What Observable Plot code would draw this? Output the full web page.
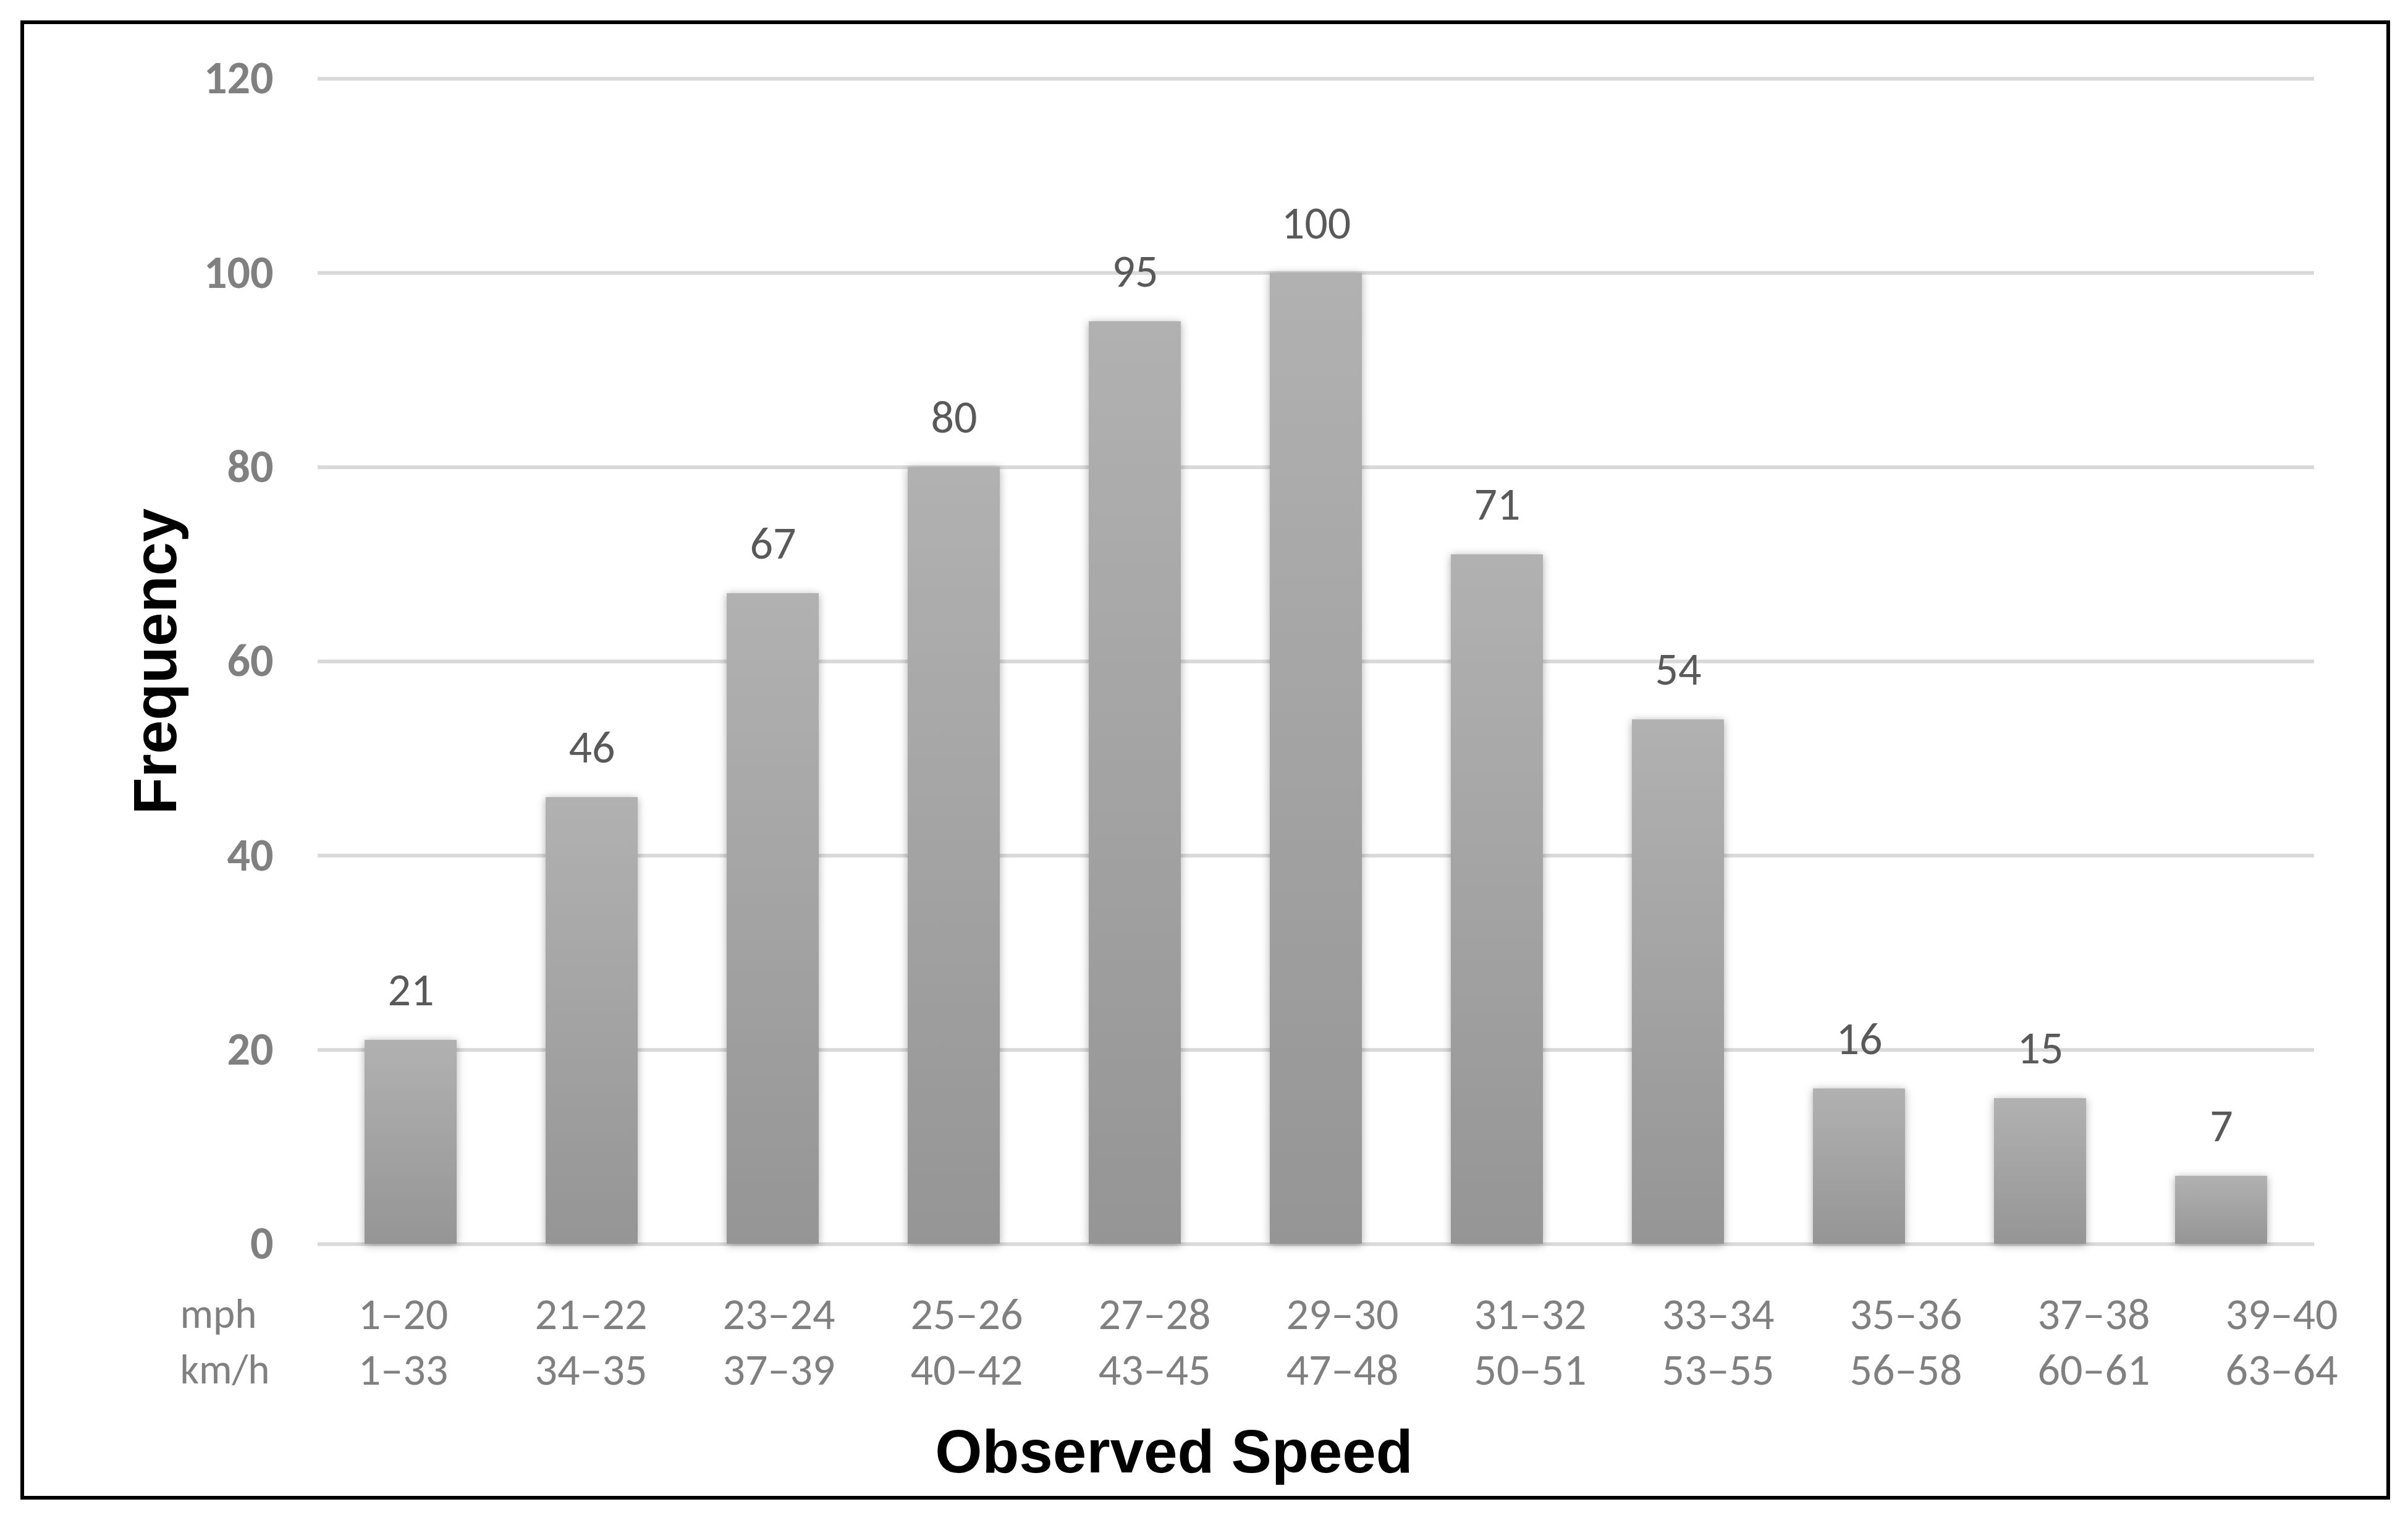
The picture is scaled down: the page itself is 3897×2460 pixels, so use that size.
<!DOCTYPE html>
<html>
<head>
<meta charset="utf-8">
<script src="https://cdn.jsdelivr.net/npm/d3@7"></script>
<script src="https://cdn.jsdelivr.net/npm/@observablehq/plot@0.6"></script>
<style>
  html, body { margin: 0; padding: 0; background: #fff; }
  #wrap { position: relative; width: 3897px; height: 2460px; overflow: hidden; }
  #chart, #labels { position: absolute; left: 0; top: 0; }
  #border { position: absolute; left: 33px; top: 33px; width: 3835px; height: 2394px;
            border: 6px solid #000; box-sizing: border-box; pointer-events: none; }
  g[aria-label="bar"] rect { filter: drop-shadow(0px 2px 7px rgba(0,0,0,0.32)); }
</style>
</head>
<body>
<div id="wrap">
  <div id="chart"></div>
  <div id="labels"></div>
  <div id="border"></div>
</div>
<script>
// ---- data ----
const mphLabels = ["1–20","21–22","23–24","25–26","27–28","29–30","31–32","33–34","35–36","37–38","39–40"];
const kmhLabels = ["1–33","34–35","37–39","40–42","43–45","47–48","50–51","53–55","56–58","60–61","63–64"];
const frequency = [21, 46, 67, 80, 95, 100, 71, 54, 16, 15, 7];
const yTicks = [0, 20, 40, 60, 80, 100, 120];
const yTitle = "Frequency";
const xTitle = "Observed Speed";
const rowNames = ["mph", "km/h"];

const rows = mphLabels.map((m, i) => ({mph: m, kmh: kmhLabels[i], freq: frequency[i]}));

const sans = "Liberation Sans, Arial, Helvetica, sans-serif";
const calib = "Carlito, Calibri, Lato, sans-serif";

const W = 3897, H = 2460, MT = 127, MB = 447;

const plot = Plot.plot({
  width: W,
  height: H,
  marginLeft: 514,
  marginRight: 152,
  marginTop: MT,
  marginBottom: MB,
  style: {background: "transparent", fontFamily: sans},
  x: {type: "band", domain: mphLabels, paddingInner: 0.49, paddingOuter: 0.245, axis: null},
  y: {domain: [0, 120], axis: null},
  marks: [
    Plot.gridY(yTicks, {stroke: "#d9d9d9", strokeOpacity: 1, strokeWidth: 6}),
    Plot.axisY(yTicks, {tickSize: 0, tickPadding: 72, fontSize: 74, fontWeight: "bold",
      fontFamily: calib, fill: "#808080", label: null}),
    Plot.barY(rows, {x: "mph", y: "freq", fill: "url(#barGrad)"}),
    Plot.text(rows, {x: "mph", y: "freq", text: d => String(d.freq), dy: -80,
      fontSize: 74, fontFamily: calib, fill: "#595959", lineAnchor: "middle"}),
    Plot.text([yTitle], {text: d => d, frameAnchor: "left", dx: -261, rotate: -90,
      textAnchor: "middle", lineAnchor: "middle", fontSize: 98, fontWeight: "bold",
      fontFamily: sans, fill: "#000"}),
    Plot.text([xTitle], {text: d => d, frameAnchor: "bottom", dx: -230, dy: 338,
      textAnchor: "middle", lineAnchor: "middle", fontSize: 98, fontWeight: "bold",
      fontFamily: sans, fill: "#000"})
  ]
});

// gradient definition for bar fill
const ns = "http://www.w3.org/2000/svg";
const defs = document.createElementNS(ns, "defs");
const grad = document.createElementNS(ns, "linearGradient");
grad.setAttribute("id", "barGrad");
grad.setAttribute("x1", "0"); grad.setAttribute("y1", "0");
grad.setAttribute("x2", "0"); grad.setAttribute("y2", "1");
[["0%", "#b1b1b1"], ["100%", "#959595"]].forEach(([o, c]) => {
  const s = document.createElementNS(ns, "stop");
  s.setAttribute("offset", o);
  s.setAttribute("stop-color", c);
  grad.appendChild(s);
});
defs.appendChild(grad);
plot.insertBefore(defs, plot.firstChild);
document.getElementById("chart").appendChild(plot);

// category label rows (mph / km/h), laid out on their own band scale
const labelPlot = Plot.plot({
  width: W,
  height: H,
  marginLeft: 499,
  marginRight: 52,
  marginTop: MT,
  marginBottom: MB,
  style: {background: "transparent", fontFamily: calib},
  x: {type: "band", domain: mphLabels, padding: 0, axis: null},
  y: {domain: [0, 120], axis: null},
  marks: [
    Plot.text(rows, {x: "mph", text: "mph", frameAnchor: "bottom", dy: 114,
      fontSize: 72, fontFamily: calib, fill: "#808080", lineAnchor: "middle"}),
    Plot.text(rows, {x: "mph", text: "kmh", frameAnchor: "bottom", dy: 204,
      fontSize: 72, fontFamily: calib, fill: "#808080", lineAnchor: "middle"}),
    Plot.text([rowNames[0]], {text: d => d, frameAnchor: "bottom-left", dx: -208, dy: 114,
      textAnchor: "start", lineAnchor: "middle", fontSize: 67, fontFamily: calib, fill: "#808080"}),
    Plot.text([rowNames[1]], {text: d => d, frameAnchor: "bottom-left", dx: -208, dy: 204,
      textAnchor: "start", lineAnchor: "middle", fontSize: 67, fontFamily: calib, fill: "#808080"})
  ]
});
document.getElementById("labels").appendChild(labelPlot);
</script>
</body>
</html>
